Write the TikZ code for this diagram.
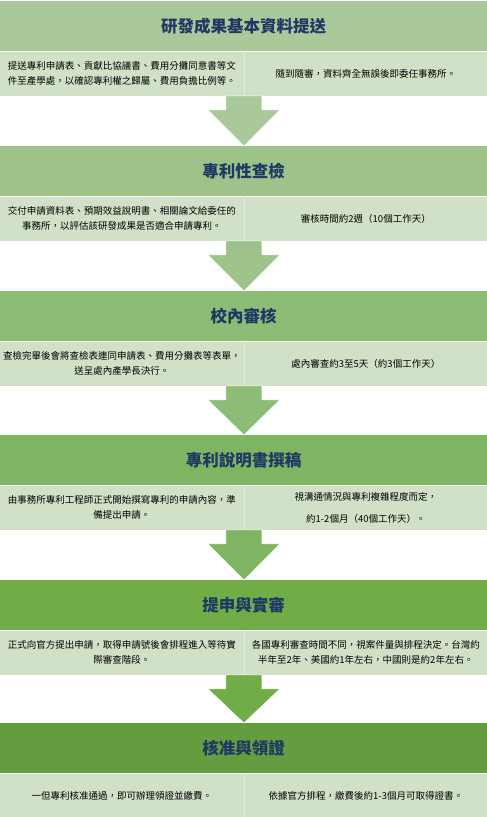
\documentclass[tikz,border=0pt]{standalone}
\usepackage{fontspec}
\setmainfont{Noto Sans CJK TC}
\usetikzlibrary{calc}
\definecolor{ca}{RGB}{170,201,155}
\definecolor{cb}{RGB}{157,195,138}
\definecolor{cc}{RGB}{141,188,119}
\definecolor{cd}{RGB}{126,181,99}
\definecolor{ce}{RGB}{112,173,71}
\definecolor{cf}{RGB}{100,157,63}
\definecolor{rowc}{RGB}{209,225,200}
\definecolor{divc}{RGB}{226,236,220}
\definecolor{navy}{RGB}{31,56,100}
\tikzset{
  hdr/.style={anchor=north west, minimum width=487pt, minimum height=50pt, inner sep=0pt,
    font=\fontsize{16.5pt}{20pt}\selectfont\bfseries, text=navy},
  cell/.style={anchor=north west, fill=rowc, minimum height=44pt, inner ysep=0pt, inner xsep=3pt,
    text width=237.5pt, align=center, font=\fontsize{9.5pt}{15pt}\selectfont, text=black},
  divider/.style={draw=divc, line width=0.8pt},
  flowarr/.style={draw=white, line width=0.5pt, line join=miter}
}
\newcommand\flowarrow[3]{%
  \filldraw[flowarr, fill=#3] ($(#1.south east)+(-18pt,0)$) -- ($(#1.south east)+(18pt,0)$)
    -- ($(#1.south east)+(18pt,-14pt)$) -- ($(#1.south east)+(36pt,-14pt)$)
    -- (#1.south east |- #2.north) -- ($(#1.south east)+(-36pt,-14pt)$)
    -- ($(#1.south east)+(-18pt,-14pt)$) -- cycle;}
\begin{document}
\begin{tikzpicture}
\useasboundingbox[fill=white] (0,0) rectangle (487pt,-817pt);
% headers
\node[hdr, fill=ca] (h1) at (0pt,-1pt) {研發成果基本資料提送};
\node[hdr, fill=cb] (h2) at (0pt,-146pt) {專利性查檢};
\node[hdr, fill=cc] (h3) at (0pt,-291pt) {校內審核};
\node[hdr, fill=cd] (h4) at (0pt,-435pt) {專利說明書撰稿};
\node[hdr, fill=ce] (h5) at (0pt,-580pt) {提申與實審};
\node[hdr, fill=cf] (h6) at (0pt,-723pt) {核准與領證};
% rows
\node[cell] (l1) at (h1.south west) {提送專利申請表、貢獻比協議書、費用分攤同意書等文\\件至產學處，以確認專利權之歸屬、費用負擔比例等。};
\node[cell] (r1) at (l1.north east) {隨到隨審，資料齊全無誤後即委任事務所。};
\node[cell] (l2) at (h2.south west) {交付申請資料表、預期效益說明書、相關論文給委任的\\事務所，以評估該研發成果是否適合申請專利。};
\node[cell] (r2) at (l2.north east) {審核時間約2週（10個工作天）};
\node[cell] (l3) at (h3.south west) {查檢完畢後會將查檢表連同申請表、費用分攤表等表單，\\送呈處內產學長決行。};
\node[cell] (r3) at (l3.north east) {處內審查約3至5天（約3個工作天）};
\node[cell] (l4) at (h4.south west) {由事務所專利工程師正式開始撰寫專利的申請內容，準\\備提出申請。};
\node[cell] (r4) at (l4.north east) {視溝通情況與專利複雜程度而定，\\[7pt]約1-2個月（40個工作天）。};
\node[cell] (l5) at (h5.south west) {正式向官方提出申請，取得申請號後會排程進入等待實\\際審查階段。};
\node[cell] (r5) at (l5.north east) {各國專利審查時間不同，視案件量與排程決定。台灣約\\半年至2年、美國約1年左右，中國則是約2年左右。};
\node[cell] (l6) at (h6.south west) {一但專利核准通過，即可辦理領證並繳費。};
\node[cell] (r6) at (l6.north east) {依據官方排程，繳費後約1-3個月可取得證書。};
% dividers
\foreach \i in {1,...,6} {\draw[divider] (l\i.north east) -- (l\i.south east);}
% arrows
\flowarrow{l1}{h2}{ca}
\flowarrow{l2}{h3}{cb}
\flowarrow{l3}{h4}{cc}
\flowarrow{l4}{h5}{cd}
\flowarrow{l5}{h6}{ce}
\end{tikzpicture}
\end{document}
